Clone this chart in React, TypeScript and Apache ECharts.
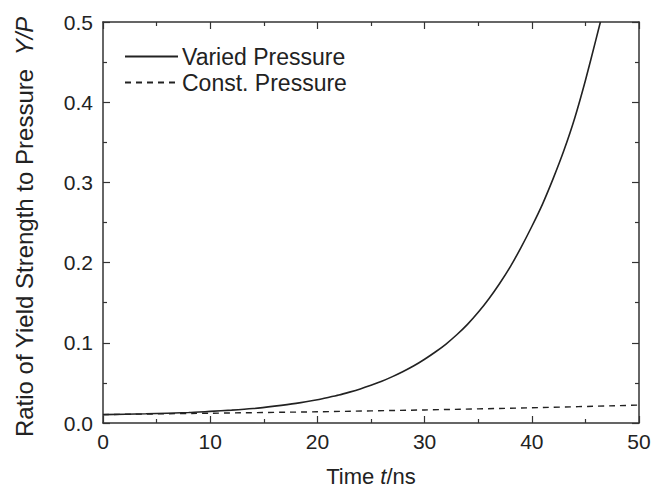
import React, { useEffect, useRef } from "react";
import * as echarts from "echarts";

const timeVaried = [0, 4, 8, 10, 12, 14, 16, 18, 20, 21, 22, 23, 24, 25, 26, 27, 28, 29, 30, 31, 32, 33, 34, 35, 36, 37, 38, 39, 40, 41, 42, 43, 44, 45, 46, 46.4];
const ratioVaried = [0.0105, 0.0115, 0.013, 0.0145, 0.016, 0.018, 0.021, 0.0245, 0.029, 0.0318, 0.0348, 0.0385, 0.0425, 0.047, 0.052, 0.0578, 0.0642, 0.0713, 0.0795, 0.0885, 0.0985, 0.110, 0.123, 0.138, 0.155, 0.174, 0.195, 0.219, 0.245, 0.273, 0.305, 0.340, 0.380, 0.427, 0.479, 0.5];
const timeConst = [0, 10, 20, 30, 40, 50];
const ratioConst = [0.0105, 0.0122, 0.014, 0.0163, 0.019, 0.0223];
const xTicks = [0, 10, 20, 30, 40, 50];
const yTicks = [0.0, 0.1, 0.2, 0.3, 0.4, 0.5];

const FONT = "'Liberation Sans', Arial, sans-serif";
const INK = "#222";

export default function App() {
  const ref = useRef<HTMLDivElement>(null);
  useEffect(() => {
    document.body.style.margin = "0";
    const chart = echarts.init(ref.current!, null, { renderer: "svg" });
    const axisCommon = {
      axisLine: { show: true, onZero: false, lineStyle: { color: "#333", width: 1.5 } },
      axisTick: { show: true, inside: true, length: 7, lineStyle: { color: "#333", width: 1.2 } },
      minorTick: { show: true, splitNumber: 2, length: 4, lineStyle: { color: "#333", width: 1.2 } },
      splitLine: { show: false },
    };
    const titleStyle = (size: number) => ({
      fontFamily: FONT,
      fontSize: size,
      color: INK,
      rich: { i: { fontStyle: "italic", fontFamily: FONT, fontSize: size, color: INK } },
    });
    chart.setOption({
      animation: false,
      backgroundColor: "#fff",
      textStyle: { fontFamily: FONT },
      grid: { left: 103, right: 17, top: 22, bottom: 70, containLabel: false },
      legend: {
        show: true,
        orient: "vertical",
        left: 119,
        top: 40,
        itemWidth: 53,
        itemHeight: 14,
        itemGap: 3,
        itemStyle: { opacity: 0 },
        textStyle: { fontFamily: FONT, fontSize: 23, lineHeight: 22, color: INK, padding: [0, 0, 0, -1] },
        data: ["Varied Pressure", "Const. Pressure"],
      },
      xAxis: [
        {
          ...axisCommon,
          type: "value",
          min: xTicks[0],
          max: xTicks[xTicks.length - 1],
          interval: 10,
          position: "bottom",
          name: "Time {i|t}/ns",
          nameLocation: "middle",
          nameGap: 42,
          nameTextStyle: titleStyle(22),
          axisLabel: { fontFamily: FONT, fontSize: 21, color: INK, margin: 8 },
        },
        {
          ...axisCommon,
          type: "value",
          min: xTicks[0],
          max: xTicks[xTicks.length - 1],
          interval: 10,
          position: "top",
          axisLabel: { show: false },
        },
      ],
      yAxis: [
        {
          ...axisCommon,
          type: "value",
          min: yTicks[0],
          max: yTicks[yTicks.length - 1],
          interval: 0.1,
          position: "left",
          name: "Ratio of Yield Strength to Pressure  {i|Y/P}",
          nameLocation: "middle",
          nameRotate: 90,
          nameGap: 67,
          nameTextStyle: { ...titleStyle(24), padding: [0, 9, 0, 0] },
          axisLabel: {
            fontFamily: FONT,
            fontSize: 21,
            color: INK,
            margin: 10,
            formatter: (v: number) => v.toFixed(1),
          },
        },
        {
          ...axisCommon,
          type: "value",
          min: yTicks[0],
          max: yTicks[yTicks.length - 1],
          interval: 0.1,
          position: "right",
          axisLabel: { show: false },
        },
      ],
      series: [
        {
          name: "Varied Pressure",
          type: "line",
          symbol: "none",
          smooth: 0.2,
          xAxisIndex: 0,
          yAxisIndex: 0,
          lineStyle: { color: INK, width: 1.6, type: "solid" },
          itemStyle: { color: INK },
          data: timeVaried.map((t, i) => [t, ratioVaried[i]]),
        },
        {
          name: "Const. Pressure",
          type: "line",
          symbol: "none",
          smooth: 0.3,
          xAxisIndex: 0,
          yAxisIndex: 0,
          lineStyle: { color: INK, width: 1.4, type: [6, 5] },
          itemStyle: { color: INK },
          data: timeConst.map((t, i) => [t, ratioConst[i]]),
        },
      ],
    });
    return () => chart.dispose();
  }, []);
  return <div ref={ref} style={{ width: 656, height: 493 }} />;
}
